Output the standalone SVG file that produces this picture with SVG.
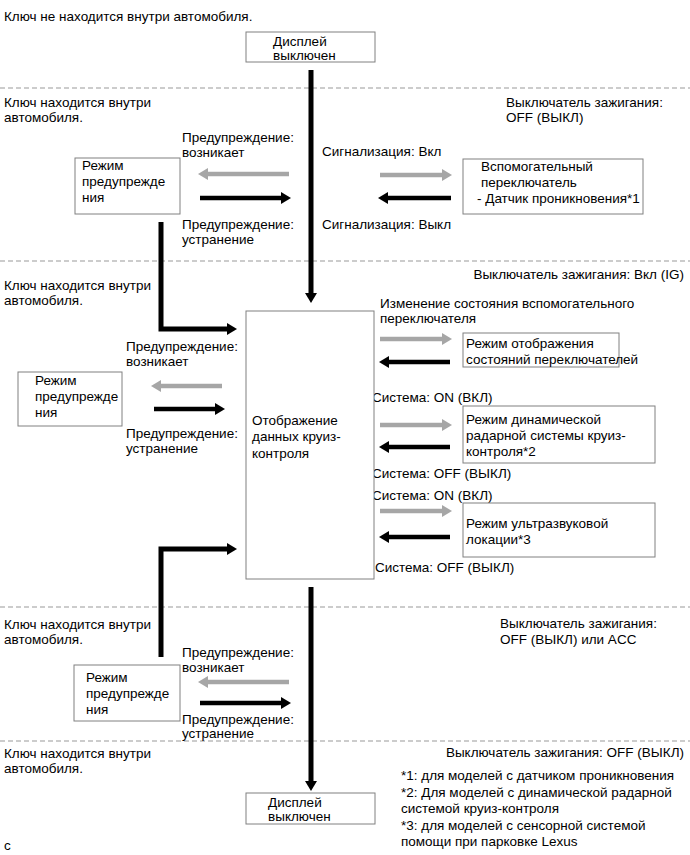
<svg xmlns="http://www.w3.org/2000/svg" width="690" height="855" viewBox="0 0 690 855">
<style>
text{font-family:"Liberation Sans",Arial,sans-serif;font-size:13.5px;fill:#000}
.box{fill:#fff;stroke:#808080;stroke-width:1}
.dash{stroke:#999;stroke-width:1;stroke-dasharray:5,3;fill:none}
.blk{stroke:#000;stroke-width:5;fill:none;marker-end:url(#hb)}
.sblk{stroke:#000;stroke-width:4.5;fill:none;marker-end:url(#hb)}
.gry{stroke:#a6a6a6;stroke-width:4.5;fill:none;marker-end:url(#hg)}
</style>
<defs>
<marker id="hb" viewBox="0 0 10 12" markerWidth="10" markerHeight="12" refX="1" refY="6" orient="auto" markerUnits="userSpaceOnUse"><path d="M0,0 L10,6 L0,12 z" fill="#000"/></marker>
<marker id="hg" viewBox="0 0 10 12" markerWidth="10" markerHeight="12" refX="1" refY="6" orient="auto" markerUnits="userSpaceOnUse"><path d="M0,0 L10,6 L0,12 z" fill="#a6a6a6"/></marker>
</defs>

<g id="separators">
<line class="dash" x1="0" y1="88" x2="690" y2="88"/>
<line class="dash" x1="0" y1="261" x2="690" y2="261"/>
<line class="dash" x1="0" y1="607" x2="690" y2="607"/>
<line class="dash" x1="0" y1="741" x2="690" y2="741"/>
</g>

<g id="labels">
<text x="4" y="21">Ключ не находится внутри автомобиля.</text>
<text x="4" y="107">Ключ находится внутри</text>
<text x="4" y="122">автомобиля.</text>
<text x="506" y="107">Выключатель зажигания:</text>
<text x="506" y="122">OFF (ВЫКЛ)</text>
<text x="182" y="142">Предупреждение:</text>
<text x="182" y="157">возникает</text>
<text x="182" y="229">Предупреждение:</text>
<text x="182" y="244">устранение</text>
<text x="322" y="156">Сигнализация: Вкл</text>
<text x="322" y="229">Сигнализация: Выкл</text>
<text x="684" y="279" text-anchor="end">Выключатель зажигания: Вкл (IG)</text>
<text x="4" y="290">Ключ находится внутри</text>
<text x="4" y="305">автомобиля.</text>
<text x="126" y="351">Предупреждение:</text>
<text x="126" y="366">возникает</text>
<text x="126" y="438">Предупреждение:</text>
<text x="126" y="453">устранение</text>
<text x="380" y="308">Изменение состояния вспомогательного</text>
<text x="380" y="323">переключателя</text>
<text x="372" y="402">Система: ON (ВКЛ)</text>
<text x="372" y="478">Система: OFF (ВЫКЛ)</text>
<text x="372" y="500">Система: ON (ВКЛ)</text>
<text x="375" y="572">Система: OFF (ВЫКЛ)</text>
<text x="4" y="629">Ключ находится внутри</text>
<text x="4" y="644">автомобиля.</text>
<text x="500" y="628">Выключатель зажигания:</text>
<text x="500" y="644">OFF (ВЫКЛ) или ACC</text>
<text x="182" y="657">Предупреждение:</text>
<text x="182" y="672">возникает</text>
<text x="182" y="724">Предупреждение:</text>
<text x="182" y="738">устранение</text>
<text x="4" y="758">Ключ находится внутри</text>
<text x="4" y="773">автомобиля.</text>
<text x="684" y="757" text-anchor="end">Выключатель зажигания: OFF (ВЫКЛ)</text>
<text x="401" y="780">*1: для моделей с датчиком проникновения</text>
<text x="401" y="797">*2: Для моделей с динамической радарной</text>
<text x="401" y="813">системой круиз-контроля</text>
<text x="401" y="830">*3: для моделей с сенсорной системой</text>
<text x="401" y="846">помощи при парковке Lexus</text>
<text x="4" y="850">c</text>
</g>

<g id="display-off-top">
<rect class="box" x="246" y="32" width="129" height="30"/>
<text x="273" y="46">Дисплей</text>
<text x="273" y="60">выключен</text>
</g>

<g id="warning-mode-1">
<rect class="box" x="75" y="158" width="105" height="56"/>
<text x="82" y="170">Режим</text>
<text x="82" y="186">предупрежде</text>
<text x="82" y="202">ния</text>
</g>

<g id="aux-switch">
<rect class="box" x="463" y="159" width="180" height="55"/>
<text x="481" y="171">Вспомогательный</text>
<text x="481" y="187">переключатель</text>
<text x="477" y="203">- Датчик проникновения*1</text>
</g>

<g id="cruise-display">
<rect class="box" x="246" y="311" width="128" height="268"/>
<text x="252" y="425">Отображение</text>
<text x="252" y="441">данных круиз-</text>
<text x="252" y="458">контроля</text>
</g>

<g id="warning-mode-2">
<rect class="box" x="18" y="372" width="104" height="54"/>
<text x="35" y="385">Режим</text>
<text x="35" y="401">предупрежде</text>
<text x="35" y="417">ния</text>
</g>

<g id="switch-status-mode">
<rect class="box" x="463" y="333" width="156" height="34"/>
<text x="466" y="348">Режим отображения</text>
<text x="466" y="364">состояний переключателей</text>
</g>

<g id="radar-cruise-mode">
<rect class="box" x="463" y="406" width="192" height="57"/>
<text x="466" y="424">Режим динамической</text>
<text x="466" y="440">радарной системы круиз-</text>
<text x="466" y="456">контроля*2</text>
</g>

<g id="ultrasonic-mode">
<rect class="box" x="463" y="503" width="192" height="54"/>
<text x="466" y="528">Режим ультразвуковой</text>
<text x="466" y="544">локации*3</text>
</g>

<g id="warning-mode-3">
<rect class="box" x="74" y="665" width="106" height="56"/>
<text x="86" y="682">Режим</text>
<text x="86" y="698">предупрежде</text>
<text x="86" y="714">ния</text>
</g>

<g id="display-off-bottom">
<rect class="box" x="246" y="793" width="129" height="31"/>
<text x="268" y="807">Дисплей</text>
<text x="268" y="821">выключен</text>
</g>

<g id="connectors">
<path class="blk" d="M311,70 V294"/>
<path class="blk" d="M161,222 V329 H228"/>
<path class="blk" d="M161,657 V549 H228"/>
<path class="blk" d="M311,587 V782"/>
<path class="gry" d="M289,174 H207"/>
<path class="sblk" d="M200,198 H282"/>
<path class="gry" d="M380,175 H443"/>
<path class="sblk" d="M451,198 H387"/>
<path class="gry" d="M222,386 H160"/>
<path class="sblk" d="M154,409 H216"/>
<path class="gry" d="M380,339 H443"/>
<path class="sblk" d="M450,362 H388"/>
<path class="gry" d="M380,425 H443"/>
<path class="sblk" d="M450,447 H388"/>
<path class="gry" d="M380,511 H443"/>
<path class="sblk" d="M450,537 H388"/>
<path class="gry" d="M289,682 H207"/>
<path class="sblk" d="M200,703 H282"/>
</g>
</svg>
